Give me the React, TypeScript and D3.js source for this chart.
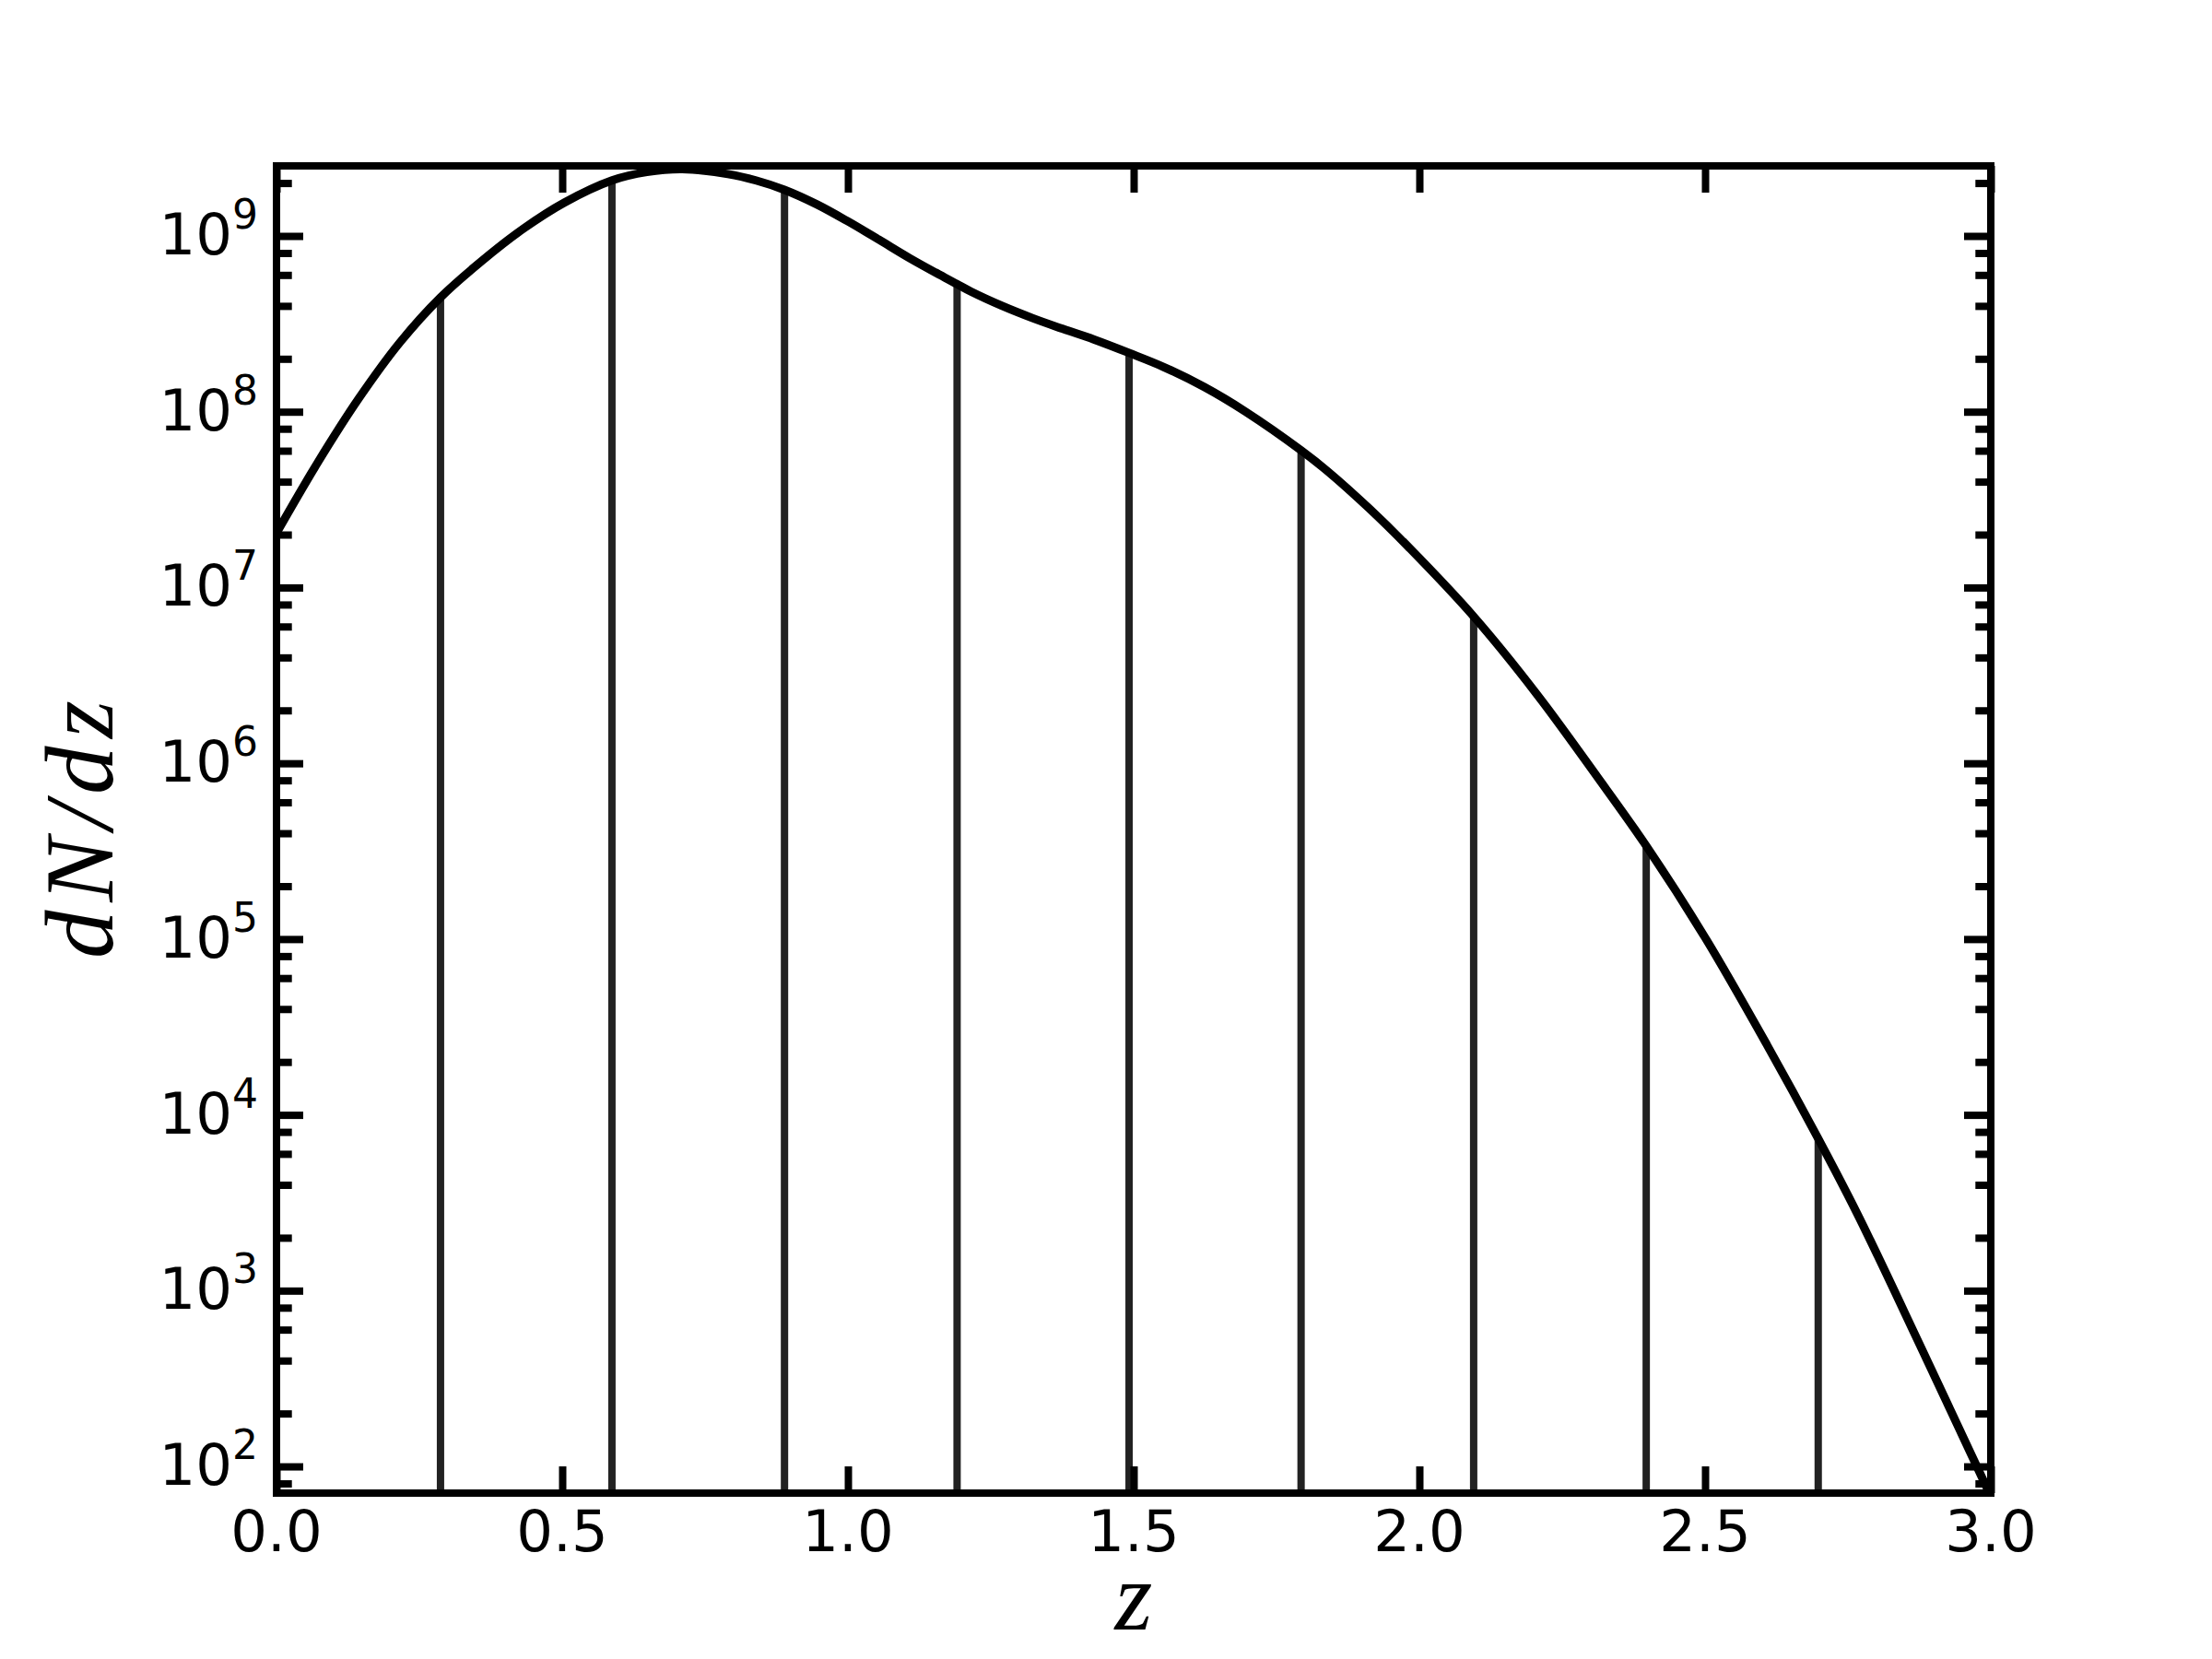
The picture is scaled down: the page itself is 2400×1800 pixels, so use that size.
import React, { useEffect, useRef } from 'react';
import * as d3 from 'd3';

// redshift samples along the dN/dz curve
const zValues = [
  0, 0.072, 0.144, 0.216, 0.287, 0.36, 0.432, 0.504, 0.587, 0.648, 0.71, 0.79, 0.839, 0.889,
  0.946, 1.0, 1.054, 1.108, 1.161, 1.191, 1.215, 1.269, 1.323, 1.376, 1.43, 1.492, 1.552,
  1.624, 1.696, 1.793, 1.84, 1.912, 1.984, 2.095, 2.204, 2.312, 2.397, 2.5, 2.608, 2.698,
  2.769, 2.876, 3.0,
];
const dndzValues = [
  2.04e7, 5.13e7, 1.19e8, 2.48e8, 4.47e8, 7.24e8, 1.1e9, 1.55e9, 2.07e9, 2.31e9, 2.4e9, 2.25e9, 2.07e9, 1.83e9,
  1.51e9, 1.21e9, 9.53e8, 7.48e8, 6.0e8, 5.32e8, 4.83e8, 4.01e8, 3.41e8, 2.96e8, 2.58e8, 2.16e8, 1.8e8,
  1.38e8, 1.0e8, 6.03e7, 4.57e7, 2.82e7, 1.66e7, 6.84e6, 2.51e6, 8.32e5, 3.39e5, 1.02e5, 2.51e4, 7.33e3,
  2.63e3, 490, 67.6,
];

// bin edges drawn as vertical lines, up to the curve
const binEdges = [0.287, 0.587, 0.889, 1.191, 1.492, 1.793, 2.095, 2.397, 2.698];
const binEdgeValues = [4.47e8, 2.07e9, 1.83e9, 5.32e8, 2.16e8, 6.03e7, 6.84e6, 3.39e5, 7.33e3];

const xTicks = [0, 0.5, 1, 1.5, 2, 2.5, 3];
const xTickLabels = ['0.0', '0.5', '1.0', '1.5', '2.0', '2.5', '3.0'];
const yExponents = [2, 3, 4, 5, 6, 7, 8, 9];
const minorMantissas = [2, 4, 6, 8];

const App = () => {
  const svgRef = useRef<SVGSVGElement>(null);

  useEffect(() => {
    const width = 2400;
    const height = 1800;
    const margin = { top: 180, right: 240, bottom: 180, left: 300 };
    const x0 = margin.left;
    const x1 = width - margin.right;
    const y0 = margin.top;
    const y1 = height - margin.bottom;

    const svg = d3.select(svgRef.current).attr('width', width).attr('height', height);
    svg.selectAll('*').remove();

    const xScale = d3.scaleLinear().domain([0, 3]).range([x0, x1]);
    const yScale = d3.scaleLog().domain([70.5, 2.503e9]).range([y1, y0]);

    svg.append('rect').attr('width', width).attr('height', height).attr('fill', 'white');

    svg.append('clipPath').attr('id', 'plot-clip')
      .append('rect').attr('x', x0).attr('y', y0).attr('width', x1 - x0).attr('height', y1 - y0);

    const plot = svg.append('g').attr('clip-path', 'url(#plot-clip)');

    // vertical bin lines
    plot.selectAll('line.bin')
      .data(binEdges)
      .join('line')
      .attr('class', 'bin')
      .attr('x1', d => xScale(d))
      .attr('x2', d => xScale(d))
      .attr('y1', y1)
      .attr('y2', (d, i) => yScale(binEdgeValues[i]))
      .attr('stroke', '#222222')
      .attr('stroke-width', 8);

    // dN/dz curve
    const line = d3.line<number>()
      .x((d, i) => xScale(zValues[i]))
      .y(d => yScale(d))
      .curve(d3.curveCatmullRom.alpha(0.5));

    plot.append('path')
      .datum(dndzValues)
      .attr('fill', 'none')
      .attr('stroke', 'black')
      .attr('stroke-width', 9)
      .attr('stroke-linejoin', 'round')
      .attr('d', line);

    // ticks, pointing inward on all four sides
    const allY = yScale.ticks();
    const mantissa = (v: number) => Math.round(v / Math.pow(10, Math.floor(Math.log10(v) + 1e-9)));
    const majorY = allY.filter(v => mantissa(v) === 1);
    const minorY = allY.filter(v => minorMantissas.includes(mantissa(v)));

    const styleTicks = (g: d3.Selection<SVGGElement, unknown, null, undefined>) => {
      g.select('.domain').remove();
      g.selectAll('text').remove();
      g.selectAll('line').attr('stroke', 'black').attr('stroke-width', 8);
    };

    svg.append('g').attr('transform', `translate(0,${y1})`)
      .call(d3.axisBottom(xScale).tickValues(xTicks).tickSize(-29).tickSizeOuter(0))
      .call(styleTicks);
    svg.append('g').attr('transform', `translate(0,${y0})`)
      .call(d3.axisTop(xScale).tickValues(xTicks).tickSize(-29).tickSizeOuter(0))
      .call(styleTicks);
    svg.append('g').attr('transform', `translate(${x0},0)`)
      .call(d3.axisLeft(yScale).tickValues(majorY).tickSize(-29).tickSizeOuter(0))
      .call(styleTicks);
    svg.append('g').attr('transform', `translate(${x0},0)`)
      .call(d3.axisLeft(yScale).tickValues(minorY).tickSize(-16.7).tickSizeOuter(0))
      .call(styleTicks);
    svg.append('g').attr('transform', `translate(${x1},0)`)
      .call(d3.axisRight(yScale).tickValues(majorY).tickSize(-29).tickSizeOuter(0))
      .call(styleTicks);
    svg.append('g').attr('transform', `translate(${x1},0)`)
      .call(d3.axisRight(yScale).tickValues(minorY).tickSize(-16.7).tickSizeOuter(0))
      .call(styleTicks);

    // spines
    svg.append('rect')
      .attr('x', x0).attr('y', y0)
      .attr('width', x1 - x0).attr('height', y1 - y0)
      .attr('fill', 'none')
      .attr('stroke', 'black')
      .attr('stroke-width', 8);

    // tick labels
    svg.append('g')
      .selectAll('text')
      .data(xTicks)
      .join('text')
      .attr('x', d => xScale(d))
      .attr('y', 1683)
      .attr('text-anchor', 'middle')
      .attr('font-family', 'DejaVu Sans')
      .attr('font-size', 62.5)
      .attr('fill', 'black')
      .text((d, i) => xTickLabels[i]);

    const yLabels = svg.append('g')
      .selectAll('text')
      .data(yExponents)
      .join('text')
      .attr('x', 280)
      .attr('y', d => yScale(Math.pow(10, d)) + 20)
      .attr('text-anchor', 'end')
      .attr('font-family', 'DejaVu Sans')
      .attr('font-size', 62.5)
      .attr('fill', 'black')
      .text('10');
    yLabels.append('tspan')
      .attr('dy', -28)
      .attr('font-size', 44)
      .text(d => String(d));

    // axis titles
    svg.append('text')
      .attr('x', (x0 + x1) / 2)
      .attr('y', 1768)
      .attr('text-anchor', 'middle')
      .attr('font-family', 'Liberation Serif')
      .attr('font-style', 'italic')
      .attr('font-size', 105)
      .attr('fill', 'black')
      .text('z');

    svg.append('text')
      .attr('transform', `translate(122,${(y0 + y1) / 2}) rotate(-90)`)
      .attr('text-anchor', 'middle')
      .attr('font-family', 'Liberation Serif')
      .attr('font-style', 'italic')
      .attr('font-size', 105)
      .attr('textLength', 280)
      .attr('lengthAdjust', 'spacing')
      .attr('fill', 'black')
      .text('dN/dz');
  }, []);

  return <svg ref={svgRef} style={{ position: 'absolute', left: 0, top: 0 }}></svg>;
};

export default App;
